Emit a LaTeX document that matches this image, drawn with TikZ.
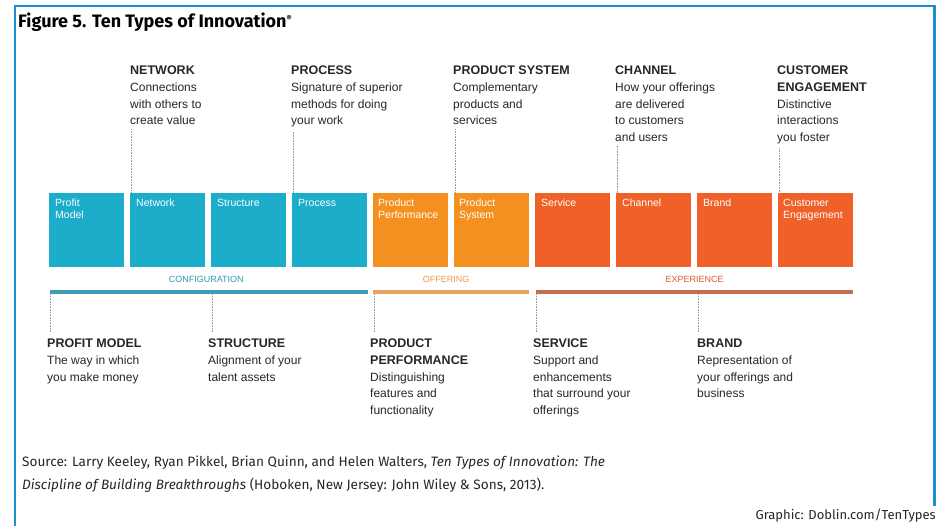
\documentclass[tikz,border=0pt]{standalone}
\usepackage{fontspec}
\setmainfont{Liberation Sans}
\newfontfamily\firafont{Fira Sans}
\usetikzlibrary{calc}
\definecolor{frameblue}{HTML}{1A8FD3}
\definecolor{cteal}{HTML}{1BADC9}
\definecolor{corange}{HTML}{F39020}
\definecolor{cred}{HTML}{F0612A}
\definecolor{barteal}{HTML}{3E9DB0}
\definecolor{barorange}{HTML}{E9A462}
\definecolor{barred}{HTML}{C2704E}
\definecolor{lblteal}{HTML}{2F9BB2}
\definecolor{lblorange}{HTML}{EB9A48}
\definecolor{lblred}{HTML}{DA5A30}
\definecolor{leadgray}{HTML}{9A9A9A}
\newcommand\hd{\fontsize{12.5}{16.5}\selectfont\bfseries}
\tikzset{
  tbox/.style={draw=none, minimum width=75pt, minimum height=74pt, inner sep=0pt, anchor=north west},
  boxtxt/.style={anchor=north west, inner sep=0pt, align=left, text=white, font=\fontsize{10.5}{12}\selectfont},
  lbl/.style={anchor=north west, inner sep=0pt, align=left, text=black!85, font=\fontsize{12}{16.5}\selectfont},
  bar/.style={draw=none, inner sep=0pt, minimum height=4pt, anchor=north west},
  cat/.style={inner sep=0pt, font=\fontsize{9}{10}\selectfont},
  leader/.style={leadgray, line width=0.6pt, densely dotted}
}
\begin{document}
\begin{tikzpicture}[x=1pt,y=-1pt]
\useasboundingbox (0,0) rectangle (938,526);
% frame
\draw[frameblue, line width=2.6pt] (15,527) -- (15,6) -- (934.5,6) -- (934.5,506);
% title
\node[anchor=base west, inner sep=0pt] (title) at (18,28) {\firafont\fontsize{18}{20}\selectfont\bfseries Figure 5. Ten Types of Innovation\textsuperscript{\fontsize{8}{9}\selectfont ®}};
% boxes
\node[tbox, fill=cteal]   (b1)  at (49,193) {};
\node[tbox, fill=cteal]   (b2)  at (130,193) {};
\node[tbox, fill=cteal]   (b3)  at (211,193) {};
\node[tbox, fill=cteal]   (b4)  at (292,193) {};
\node[tbox, fill=corange] (b5)  at (373,193) {};
\node[tbox, fill=corange] (b6)  at (454,193) {};
\node[tbox, fill=cred]    (b7)  at (535,193) {};
\node[tbox, fill=cred]    (b8)  at (616,193) {};
\node[tbox, fill=cred]    (b9)  at (697,193) {};
\node[tbox, fill=cred]    (b10) at (778,193) {};
\node[boxtxt] (t1)  at ([xshift=6pt,yshift=-6pt]b1.north west)  {Profit\\Model};
\node[boxtxt] (t2)  at ([xshift=6pt,yshift=-6pt]b2.north west)  {Network};
\node[boxtxt] (t3)  at ([xshift=6pt,yshift=-6pt]b3.north west)  {Structure};
\node[boxtxt] (t4)  at ([xshift=6pt,yshift=-6pt]b4.north west)  {Process};
\node[boxtxt] (t5)  at ([xshift=5pt,yshift=-6pt]b5.north west)  {Product\\Performance};
\node[boxtxt] (t6)  at ([xshift=5pt,yshift=-6pt]b6.north west)  {Product\\System};
\node[boxtxt] (t7)  at ([xshift=6pt,yshift=-6pt]b7.north west)  {Service};
\node[boxtxt] (t8)  at ([xshift=6pt,yshift=-6pt]b8.north west)  {Channel};
\node[boxtxt] (t9)  at ([xshift=6pt,yshift=-6pt]b9.north west)  {Brand};
\node[boxtxt] (t10) at ([xshift=5pt,yshift=-6pt]b10.north west) {Customer\\Engagement};
% category bars
\node[bar, fill=barteal,   minimum width=318pt] (cbar) at (50,290) {};
\node[bar, fill=barorange, minimum width=156pt] (obar) at (373,290) {};
\node[bar, fill=barred,    minimum width=317pt] (ebar) at (536,290) {};
\node[cat, text=lblteal]   (ctxt) at ($(cbar.north)+(-3,-11)$) {CONFIGURATION};
\node[cat, text=lblorange] (otxt) at ($(obar.north)+(-5,-11)$) {OFFERING};
\node[cat, text=lblred]    (etxt) at ($(ebar.north)+(0,-11)$) {EXPERIENCE};
% top labels
\node[lbl] (l2)  at (130,66) {{\hd NETWORK}\\[0.5pt]Connections\\with others to\\create value};
\node[lbl] (l4)  at (291,66) {{\hd PROCESS}\\[0.5pt]Signature of superior\\methods for doing\\your work};
\node[lbl] (l6)  at (453,66) {{\hd PRODUCT SYSTEM}\\[0.5pt]Complementary\\products and\\services};
\node[lbl] (l8)  at (615,66) {{\hd CHANNEL}\\[0.5pt]How your offerings\\are delivered\\to customers\\and users};
\node[lbl] (l10) at (777,66) {{\hd CUSTOMER}\\{\hd ENGAGEMENT}\\[0.5pt]Distinctive\\interactions\\you foster};
% bottom labels
\node[lbl] (l1) at (47,339)  {{\hd PROFIT MODEL}\\[0.5pt]The way in which\\you make money};
\node[lbl] (l3) at (208,339) {{\hd STRUCTURE}\\[0.5pt]Alignment of your\\talent assets};
\node[lbl] (l5) at (370,339) {{\hd PRODUCT}\\{\hd PERFORMANCE}\\[0.5pt]Distinguishing\\features and\\functionality};
\node[lbl] (l7) at (533,339) {{\hd SERVICE}\\[0.5pt]Support and\\enhancements\\that surround your\\offerings};
\node[lbl] (l9) at (697,339) {{\hd BRAND}\\[0.5pt]Representation of\\your offerings and\\business};
% top leaders
\foreach \b/\l in {b2/l2, b4/l4, b6/l6, b8/l8, b10/l10}{
  \coordinate (c\b) at ([xshift=1pt]\b.north west);
  \draw[leader] (c\b |- {$(\l.south)+(0,4)$}) -- (c\b);
}
% bottom leaders
\foreach \b/\l/\r in {b1/l1/cbar, b3/l3/cbar, b5/l5/obar, b7/l7/ebar, b9/l9/ebar}{
  \coordinate (d\b) at ([xshift=1pt]\b.south west);
  \draw[leader] (d\b |- \r.south) -- (d\b |- {$(\l.north)+(0,-7)$});
}
% source
\node[anchor=north west, inner sep=0pt, align=left, text=black!85, font=\firafont\fontsize{13.6}{23}\selectfont] (src) at (22,456)
  {Source: Larry Keeley, Ryan Pikkel, Brian Quinn, and Helen Walters, \textit{Ten Types of Innovation: The}\\
   \textit{Discipline of Building Breakthroughs} (Hoboken, New Jersey: John Wiley \& Sons, 2013).};
\node[anchor=base east, inner sep=0pt, text=black!85, font=\firafont\fontsize{13}{15}\selectfont] (graphic) at (936,520) {Graphic: Doblin.com/TenTypes};
\end{tikzpicture}
\end{document}
